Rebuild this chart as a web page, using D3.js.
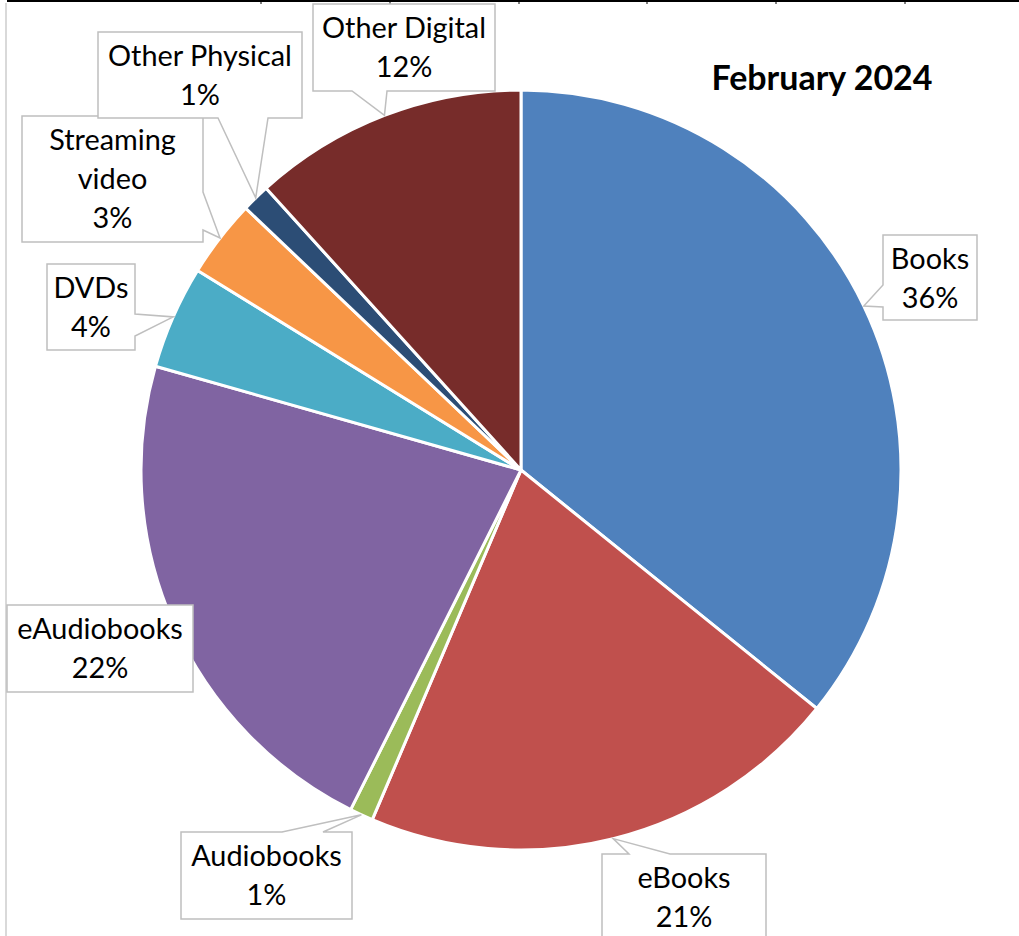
<!DOCTYPE html>
<html>
<head>
<meta charset="utf-8">
<script src="https://cdn.jsdelivr.net/npm/d3@7"></script>
<style>
  html, body { margin: 0; padding: 0; background: #fff; }
  svg { display: block; }
</style>
</head>
<body>
<svg id="chart" width="1019" height="936"></svg>
<script>
// ---- data ----
const categories = ["Books", "eBooks", "Audiobooks", "eAudiobooks", "DVDs", "Streaming video", "Other Physical", "Other Digital"];
const values = [35.8, 20.6, 1.0, 22.0, 4.4, 3.3, 1.2, 11.7];
const colors = ["#4F81BD", "#C0504D", "#9BBB59", "#8064A2", "#4BACC6", "#F79646", "#2C4D75", "#772C2A"];
const labelLines = [["Books"], ["eBooks"], ["Audiobooks"], ["eAudiobooks"], ["DVDs"], ["Streaming", "video"], ["Other Physical"], ["Other Digital"]];
const title = "February 2024";

// ---- layout (callout boxes) ----
const callouts = [
  { x: 883, y: 235, w: 94,  h: 85,  side: "left",   a: 285, b: 307 },
  { x: 602, y: 854, w: 164, h: 100, side: "top",    a: 629, b: 670 },
  { x: 181, y: 832, w: 171, h: 87,  side: "top",    a: 282, b: 323 },
  { x: 7,   y: 605, w: 186, h: 87,  side: null },
  { x: 47,  y: 264, w: 88,  h: 86,  side: "right",  a: 314, b: 336 },
  { x: 22,  y: 116, w: 181, h: 126, side: "right",  a: 192, b: 230 },
  { x: 98,  y: 32,  w: 204, h: 86,  side: "bottom", a: 218, b: 268 },
  { x: 313, y: 4,   w: 182, h: 87,  side: "bottom", a: 352, b: 387 }
];

const svg = d3.select("#chart");
const FONT = "Lato, Carlito, Calibri, sans-serif";

// fit font size to a target width
function fitSize(text, weight, targetW) {
  const t = svg.append("text").attr("font-family", FONT).attr("font-weight", weight)
    .attr("font-size", 100).text(text);
  const w = t.node().getComputedTextLength();
  t.remove();
  return 100 * targetW / w;
}
const labelSize = fitSize("Other Digital", "normal", 164);
const titleSize = fitSize(title, "bold", 221);

// spreadsheet frame decorations
svg.append("line").attr("x1", 7).attr("x2", 1019).attr("y1", 1).attr("y2", 1)
  .attr("stroke", "#000").attr("stroke-width", 2);
[261, 390, 519, 647, 776, 905].forEach(x => {
  svg.append("line").attr("x1", x).attr("x2", x).attr("y1", 0).attr("y2", 4)
    .attr("stroke", "#000").attr("stroke-width", 1);
});
svg.append("line").attr("x1", 6).attr("x2", 6).attr("y1", 3).attr("y2", 936)
  .attr("stroke", "#d9d9d9").attr("stroke-width", 2);

// ---- pie ----
const cx = 521, cy = 470, R = 380;
const data = categories.map((c, i) => ({ cat: c, value: values[i], i }));
const pie = d3.pie().value(d => d.value).sort(null);
const arcs = pie(data);
const arc = d3.arc().innerRadius(0).outerRadius(R);

const g = svg.append("g").attr("transform", `translate(${cx},${cy})`);
g.selectAll("path").data(arcs).join("path")
  .attr("d", arc)
  .attr("fill", d => colors[d.data.i])
  .attr("stroke", "#fff")
  .attr("stroke-width", 3)
  .attr("stroke-linejoin", "round");

// ---- callouts ----
const fmt = v => Math.round(v) + "%";
arcs.forEach((d, i) => {
  const c = callouts[i];
  const mid = (d.startAngle + d.endAngle) / 2;
  const tx = cx + R * Math.sin(mid), ty = cy - R * Math.cos(mid);
  const x0 = c.x, y0 = c.y, x1 = c.x + c.w, y1 = c.y + c.h;
  let p;
  if (c.side === "bottom") {
    p = [[x0, y0], [x1, y0], [x1, y1], [c.b, y1], [tx, ty], [c.a, y1], [x0, y1]];
  } else if (c.side === "top") {
    p = [[x0, y0], [c.a, y0], [tx, ty], [c.b, y0], [x1, y0], [x1, y1], [x0, y1]];
  } else if (c.side === "right") {
    p = [[x0, y0], [x1, y0], [x1, c.a], [tx, ty], [x1, c.b], [x1, y1], [x0, y1]];
  } else if (c.side === "left") {
    p = [[x0, y0], [x1, y0], [x1, y1], [x0, y1], [x0, c.b], [tx, ty], [x0, c.a]];
  } else {
    p = [[x0, y0], [x1, y0], [x1, y1], [x0, y1]];
  }
  svg.append("path")
    .attr("d", "M" + p.map(q => q.join(",")).join("L") + "Z")
    .attr("fill", "#fff")
    .attr("stroke", "#bfbfbf")
    .attr("stroke-width", 1.5)
    .attr("stroke-linejoin", "miter");
  const lines = labelLines[i].concat([fmt(d.data.value)]);
  const t = svg.append("text")
    .attr("font-family", FONT).attr("font-size", labelSize)
    .attr("fill", "#000").attr("text-anchor", "middle");
  lines.forEach((ln, k) => {
    t.append("tspan").attr("x", c.x + c.w / 2).attr("y", c.y + 34 + 39 * k).text(ln);
  });
});

// ---- title ----
svg.append("text")
  .attr("x", 822).attr("y", 90)
  .attr("text-anchor", "middle")
  .attr("font-family", FONT).attr("font-weight", "bold")
  .attr("font-size", titleSize)
  .attr("fill", "#000")
  .text(title);
</script>
</body>
</html>
